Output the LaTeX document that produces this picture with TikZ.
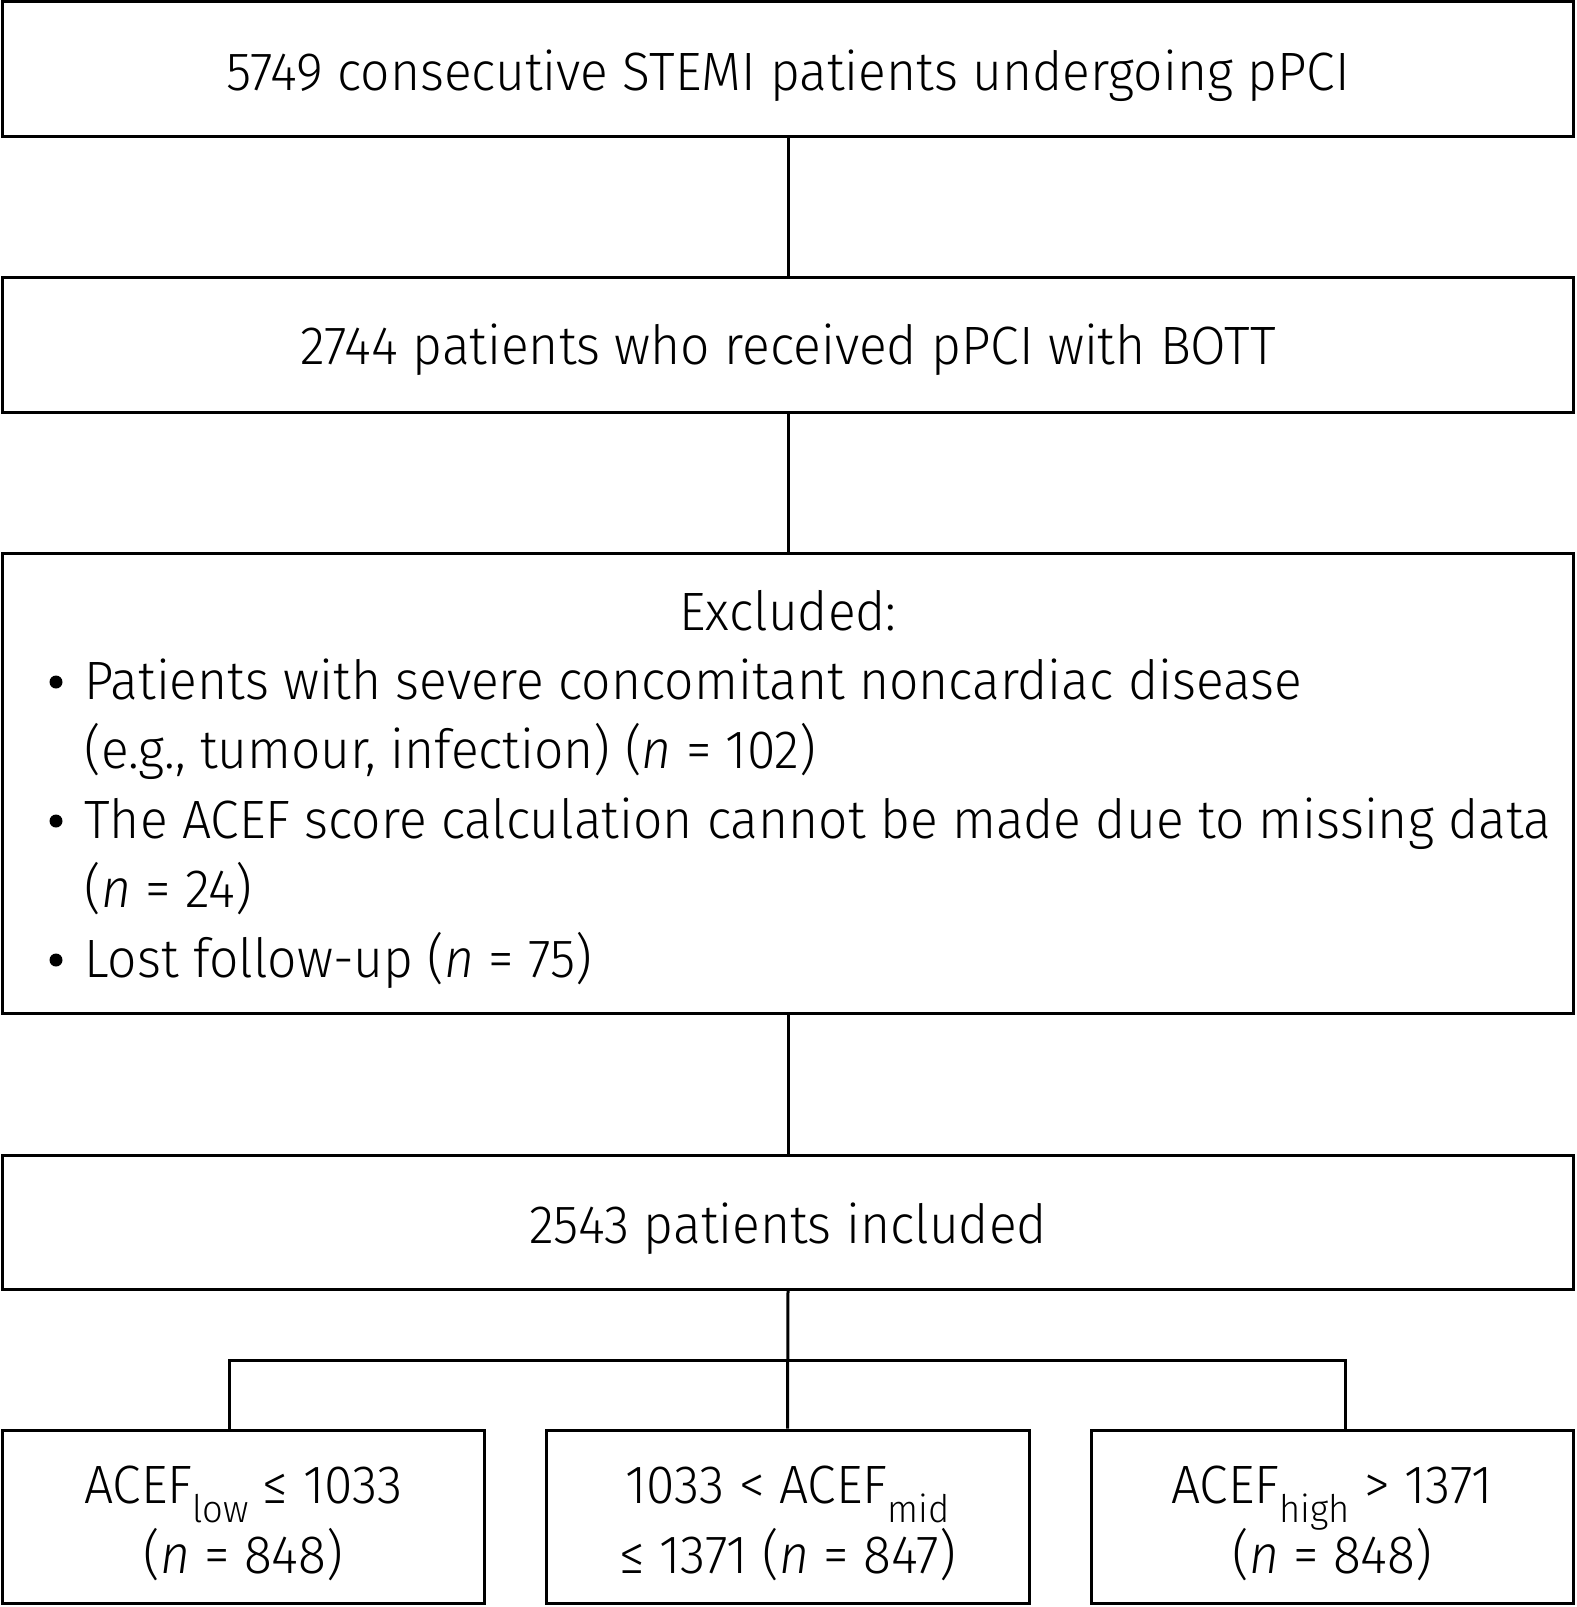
\documentclass[tikz,border=0pt]{standalone}
\usepackage{fontspec}
\setmainfont{Fira Sans}[UprightFont=* Light, ItalicFont=* Light Italic, BoldFont=* Regular, FakeStretch=0.955]
\newcommand{\sbs}[1]{\raisebox{-9.5pt}{\fontsize{19pt}{20pt}\selectfont #1}}
\begin{document}
\begin{tikzpicture}[x=0.5pt,y=-0.5pt,
  box/.style={draw=black, line width=1.5pt, rectangle, inner sep=0pt},
  txt/.style={anchor=base, inner sep=0pt, font=\fontsize{27pt}{34.75pt}\selectfont},
  dot/.style={circle, fill=black, inner sep=0pt, minimum size=6.5pt},
  conn/.style={draw=black, line width=1.5pt}]
\useasboundingbox (0,0) rectangle (1576,1607);
% boxes
\node[box, minimum width=1571pt*0.5, minimum height=134.5pt*0.5] (b1) at (788,68.75) {};
\node[box, minimum width=1571pt*0.5, minimum height=135pt*0.5] (b2) at (788,344.5) {};
\node[box, minimum width=1571pt*0.5, minimum height=460pt*0.5] (b3) at (788,783) {};
\node[box, minimum width=1571pt*0.5, minimum height=134pt*0.5] (b4) at (788,1222) {};
\node[box, minimum width=481.5pt*0.5, minimum height=173pt*0.5] (l) at (243.25,1516.5) {};
\node[box, minimum width=483pt*0.5, minimum height=173pt*0.5] (m) at (787.5,1516.5) {};
\node[box, minimum width=482.5pt*0.5, minimum height=173pt*0.5] (r) at (1332.25,1516.5) {};
% texts
\node[txt] (t1) at (788,90) {5749 consecutive STEMI patients undergoing pPCI};
\node[txt] (t2) at (788,364) {2744 patients who received pPCI with BOTT};
\node[txt] (t3) at (788,630) {Excluded:};
\node[txt, anchor=base west] (t4) at (84,699) {Patients with severe concomitant noncardiac disease};
\node[txt, anchor=base west] (t5) at (84,768) {(e.g., tumour, infection) (\textit{n} = 102)};
\node[txt, anchor=base west] (t6) at (84,838) {The ACEF score calculation cannot be made due to missing data};
\node[txt, anchor=base west] (t7) at (84,907) {(\textit{n} = 24)};
\node[txt, anchor=base west] (t8) at (84,977) {Lost follow-up (\textit{n} = 75)};
\node[dot] (u4) at (56,682) {};
\node[dot] (u6) at (56,821) {};
\node[dot] (u8) at (56,960) {};
\node[txt] (t9) at (788,1243) {2543 patients included};
\node[txt] (l1) at (243.25,1503) {ACEF\sbs{low} ≤ 1033};
\node[txt] (l2) at (243.25,1573) {(\textit{n} = 848)};
\node[txt] (m1) at (787.5,1503) {1033 < ACEF\sbs{mid}};
\node[txt] (m2) at (787.5,1573) {≤ 1371 (\textit{n} = 847)};
\node[txt] (r1) at (1332.25,1503) {ACEF\sbs{high} > 1371};
\node[txt] (r2) at (1332.25,1573) {(\textit{n} = 848)};
% connectors
\coordinate (j) at (788,1360);
\draw[conn] (b1.south) -- (b2.north);
\draw[conn] (b2.south) -- (b3.north);
\draw[conn] (b3.south) -- (b4.north);
\draw[conn] (b4.south) -- (m.north);
\draw[conn] (l.north -| 229.5,0) |- (j) -| (r.north -| 1345,0);
\end{tikzpicture}
\end{document}
